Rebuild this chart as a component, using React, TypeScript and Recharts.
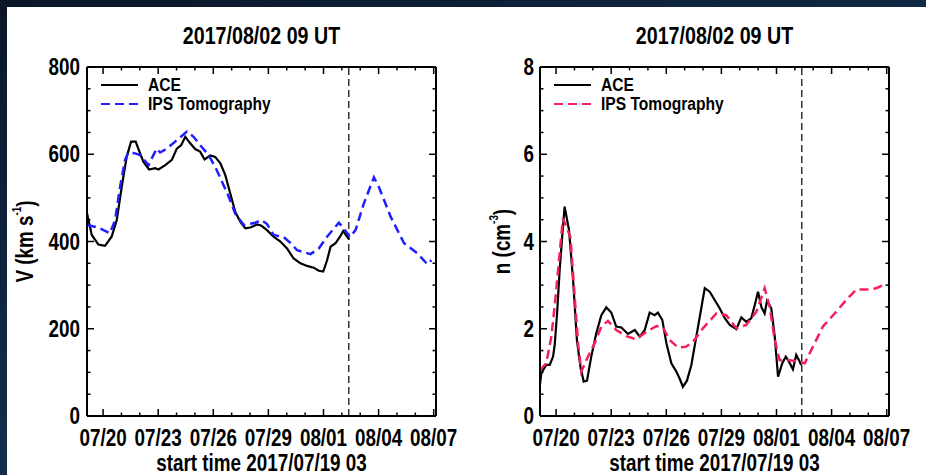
import React from 'react';
import { LineChart, Line, XAxis, YAxis, ReferenceLine, Legend, Label } from 'recharts';

const FONT = '"Liberation Sans", Arial, Helvetica, sans-serif';
const SQUEEZE = 0.82; // narrow Helvetica look

// time axis is in days since 2017/07/19 03 UT
const dayTicks = [0.875, 1.875, 2.875, 3.875, 4.875, 5.875, 6.875, 7.875, 8.875, 9.875, 10.875, 11.875, 12.875, 13.875, 14.875, 15.875, 16.875, 17.875, 18.875];
const majorDays = [0.875, 3.875, 6.875, 9.875, 12.875, 15.875, 18.875];
const dateLabels = ['07/20', '07/23', '07/26', '07/29', '08/01', '08/04', '08/07'];
const forecastDay = 14.25; // 2017/08/02 09 UT

const vTicks = [0, 50, 100, 150, 200, 250, 300, 350, 400, 450, 500, 550, 600, 650, 700, 750, 800];
const vMajor = [0, 200, 400, 600, 800];
const nTicks = [0, 0.5, 1, 1.5, 2, 2.5, 3, 3.5, 4, 4.5, 5, 5.5, 6, 6.5, 7, 7.5, 8];
const nMajor = [0, 2, 4, 6, 8];

// solar wind speed, km/s
const aceVTime = [0, 0.26, 0.62, 0.98, 1.34, 1.62, 1.89, 2.16, 2.4, 2.65, 2.89, 3.07, 3.38, 3.71, 3.89, 4.26, 4.62, 4.89, 5.13, 5.35, 5.62, 5.89, 6.16, 6.4, 6.71, 6.98, 7.26, 7.53, 7.8, 8.07, 8.35, 8.62, 8.89, 9.26, 9.5, 9.8, 10.16, 10.53, 10.89, 11.25, 11.62, 11.98, 12.34, 12.62, 12.86, 13.07, 13.26, 13.53, 13.77, 13.95, 14.13, 14.27];
const aceV = [465, 415, 393, 390, 411, 449, 525, 594, 629, 629, 602, 583, 565, 568, 565, 575, 587, 613, 621, 640, 625, 612, 606, 588, 597, 594, 579, 552, 510, 468, 445, 430, 432, 439, 436, 426, 411, 400, 384, 361, 350, 344, 340, 333, 331, 357, 388, 396, 411, 424, 413, 405];
const ipsVTime = [0, 0.62, 1.25, 1.53, 1.8, 2.07, 2.25, 2.62, 2.89, 3.35, 3.53, 3.8, 3.98, 4.35, 4.8, 5.44, 5.8, 6.16, 6.62, 6.98, 7.35, 7.71, 8.07, 8.53, 9.16, 9.5, 9.8, 10.16, 10.71, 11.07, 11.44, 12.17, 12.62, 13.07, 13.71, 13.98, 14.31, 14.62, 15.07, 15.62, 15.89, 16.53, 17.26, 17.98, 18.53, 18.75];
const ipsV = [438, 432, 419, 449, 525, 587, 604, 602, 598, 575, 591, 613, 604, 613, 629, 652, 640, 621, 598, 571, 537, 503, 464, 438, 443, 449, 440, 415, 410, 397, 380, 371, 384, 411, 443, 430, 410, 426, 487, 547, 525, 457, 396, 373, 348, 357];

// proton density, cm^-3
const aceNTime = [0, 0.07, 0.34, 0.53, 0.71, 0.8, 0.93, 1.07, 1.21, 1.34, 1.58, 1.8, 2.01, 2.2, 2.38, 2.56, 2.79, 3.06, 3.34, 3.61, 3.88, 4.15, 4.43, 4.79, 5.16, 5.43, 5.7, 5.97, 6.24, 6.42, 6.66, 6.88, 7.15, 7.42, 7.6, 7.78, 8.0, 8.24, 8.51, 8.78, 8.97, 9.24, 9.51, 9.78, 10.06, 10.33, 10.69, 10.96, 11.23, 11.5, 11.69, 11.87, 12.05, 12.23, 12.36, 12.59, 12.78, 12.96, 13.19, 13.38, 13.56, 13.77, 13.95, 14.1, 14.22];
const aceN = [0.73, 0.98, 1.17, 1.17, 1.36, 1.63, 2.35, 3.35, 4.11, 4.8, 4.26, 3.12, 1.74, 1.13, 0.79, 0.81, 1.36, 1.89, 2.31, 2.49, 2.37, 2.05, 2.03, 1.88, 1.97, 1.82, 1.97, 2.37, 2.31, 2.37, 2.2, 1.67, 1.21, 1.02, 0.86, 0.67, 0.81, 1.17, 1.82, 2.47, 2.93, 2.85, 2.66, 2.47, 2.24, 2.09, 1.99, 2.26, 2.16, 2.24, 2.54, 2.85, 2.5, 2.35, 2.64, 2.47, 1.82, 0.9, 1.21, 1.36, 1.24, 1.07, 1.4, 1.28, 1.17];
const ipsNTime = [0, 0.34, 0.62, 0.85, 1.07, 1.25, 1.65, 1.89, 2.07, 2.25, 2.61, 2.98, 3.34, 3.7, 4.15, 4.7, 5.24, 5.79, 6.34, 6.7, 7.06, 7.51, 7.96, 8.33, 8.87, 9.6, 10.14, 10.69, 11.23, 11.78, 12.23, 12.5, 12.78, 13.05, 13.59, 14.14, 14.41, 14.86, 15.4, 16.13, 16.67, 17.22, 17.94, 18.31, 18.77];
const ipsN = [1.05, 1.21, 1.82, 2.73, 3.73, 4.53, 4.11, 2.73, 1.67, 1.02, 1.36, 1.67, 2.05, 2.18, 1.97, 1.83, 1.76, 1.93, 2.06, 2.03, 1.74, 1.57, 1.59, 1.7, 2.01, 2.35, 2.31, 2.01, 2.09, 2.39, 2.93, 2.51, 1.74, 1.28, 1.28, 1.24, 1.21, 1.59, 2.05, 2.39, 2.66, 2.9, 2.9, 2.93, 3.02];

type Pt = { t: number; v: number };
const toPoints = (t: number[], v: number[]): Pt[] => t.map((d, i) => ({ t: d, v: v[i] }));

// bold text squeezed horizontally around its anchor point
const NText = ({ x, y, size, anchor = 'start', rotate = false, baseline, children }: any) => (
  <text
    transform={`translate(${x} ${y})${rotate ? ' rotate(-90)' : ''} scale(${SQUEEZE} 1)`}
    x={0}
    y={0}
    textAnchor={anchor}
    dominantBaseline={baseline}
    fontSize={size}
    fontFamily={FONT}
    fontWeight="bold"
    fill="#000"
  >
    {children}
  </text>
);

const BottomTick = ({ x, y, payload }: any) => {
  const i = majorDays.indexOf(payload.value);
  return (
    <g>
      <line x1={x} y1={y} x2={x} y2={y - (i >= 0 ? 7 : 3.5)} stroke="#000" strokeWidth={1.5} />
      {i >= 0 && (
        <NText x={x} y={y + 30} size={23} anchor="middle">
          {dateLabels[i]}
        </NText>
      )}
    </g>
  );
};

const TopTick = ({ x, y, payload }: any) => {
  const len = majorDays.includes(payload.value) ? 7 : 3.5;
  return <line x1={x} y1={y} x2={x} y2={y + len} stroke="#000" strokeWidth={1.5} />;
};

const makeLeftTick = (major: number[], gap: number) => ({ x, y, payload }: any) => {
  const isMajor = major.includes(payload.value);
  return (
    <g>
      <line x1={x} y1={y} x2={x + (isMajor ? 7 : 3.5)} y2={y} stroke="#000" strokeWidth={1.5} />
      {isMajor && (
        <NText x={x - gap} y={y + 8} size={23} anchor="end">
          {payload.value}
        </NText>
      )}
    </g>
  );
};

const makeRightTick = (major: number[]) => ({ x, y, payload }: any) => {
  const len = major.includes(payload.value) ? 7 : 3.5;
  return <line x1={x} y1={y} x2={x - len} y2={y} stroke="#000" strokeWidth={1.5} />;
};

const dashFor: Record<string, string | undefined> = { ACE: undefined, 'IPS Tomography': '9 5' };

const LegendBox = ({ payload }: any) => (
  <div style={{ fontFamily: FONT, fontWeight: 'bold', fontSize: 19, lineHeight: '19px' }}>
    {(payload || []).map((e: any) => (
      <div key={e.value} style={{ display: 'flex', alignItems: 'center', height: 19, whiteSpace: 'nowrap' }}>
        <svg width={47} height={19} style={{ display: 'block', flex: 'none' }}>
          <line x1={0} y1={10} x2={37} y2={10} stroke={e.color} strokeWidth={2.2} strokeDasharray={dashFor[e.value]} />
        </svg>
        <span
          style={{
            color: '#000',
            display: 'inline-block',
            transform: `scaleX(${SQUEEZE})`,
            transformOrigin: 'left center',
          }}
        >
          {e.value}
        </span>
      </div>
    ))}
  </div>
);

type PanelProps = {
  left: number;
  marginLeft: number;
  marginRight: number;
  yLabelGap: number;
  yTickGap: number;
  yDomain: [number, number];
  yTicks: number[];
  yMajor: number[];
  yLabel: React.ReactNode;
  ace: Pt[];
  ips: Pt[];
  ipsColor: string;
};

const Panel = (p: PanelProps) => (
  <div style={{ position: 'absolute', left: p.left, top: 0 }}>
    <LineChart
      width={463}
      height={475}
      margin={{ top: 66, right: p.marginRight, bottom: 58, left: p.marginLeft }}
    >
      <XAxis
        xAxisId={0}
        dataKey="t"
        type="number"
        domain={[0, 19]}
        allowDataOverflow
        ticks={dayTicks}
        interval={0}
        height={1}
        tickSize={0}
        tickMargin={0}
        tickLine={false}
        tick={BottomTick}
        axisLine={{ stroke: '#000', strokeWidth: 2 }}
      >
        <Label
          content={({ viewBox }: any) => (
            <NText x={viewBox.x + viewBox.width / 2} y={viewBox.y + 55} size={23} anchor="middle">
              start time 2017/07/19 03
            </NText>
          )}
        />
      </XAxis>
      <XAxis
        xAxisId="top"
        orientation="top"
        dataKey="t"
        type="number"
        domain={[0, 19]}
        allowDataOverflow
        ticks={dayTicks}
        interval={0}
        height={1}
        tickSize={0}
        tickMargin={0}
        tickLine={false}
        tick={TopTick}
        axisLine={{ stroke: '#000', strokeWidth: 2 }}
      >
        <Label
          content={({ viewBox }: any) => (
            <NText x={viewBox.x + viewBox.width / 2} y={44} size={24} anchor="middle">
              2017/08/02 09 UT
            </NText>
          )}
        />
      </XAxis>
      <YAxis
        yAxisId={0}
        type="number"
        domain={p.yDomain}
        allowDataOverflow
        ticks={p.yTicks}
        interval={0}
        width={1}
        tickSize={0}
        tickMargin={0}
        tickLine={false}
        tick={makeLeftTick(p.yMajor, p.yTickGap)}
        axisLine={{ stroke: '#000', strokeWidth: 2 }}
      >
        <Label
          content={({ viewBox }: any) => (
            <NText
              x={viewBox.x + viewBox.width - p.yLabelGap}
              y={viewBox.y + viewBox.height / 2}
              size={23}
              anchor="middle"
              baseline="central"
              rotate
            >
              {p.yLabel}
            </NText>
          )}
        />
      </YAxis>
      <YAxis
        yAxisId="right"
        orientation="right"
        type="number"
        domain={p.yDomain}
        allowDataOverflow
        ticks={p.yTicks}
        interval={0}
        width={1}
        tickSize={0}
        tickMargin={0}
        tickLine={false}
        tick={makeRightTick(p.yMajor)}
        axisLine={{ stroke: '#000', strokeWidth: 2 }}
      />
      <ReferenceLine x={forecastDay} stroke="#333" strokeWidth={1.5} strokeDasharray="7 4" />
      <Line
        data={p.ace}
        dataKey="v"
        name="ACE"
        type="linear"
        stroke="#000"
        strokeWidth={2.2}
        dot={false}
        activeDot={false}
        isAnimationActive={false}
      />
      <Line
        data={p.ips}
        dataKey="v"
        name="IPS Tomography"
        type="linear"
        stroke={p.ipsColor}
        strokeWidth={2.5}
        strokeDasharray="9 5"
        dot={false}
        activeDot={false}
        isAnimationActive={false}
      />
      <Legend
        layout="vertical"
        align="center"
        verticalAlign="middle"
        content={LegendBox}
        wrapperStyle={{ left: p.marginLeft + 15, top: 75, width: 'auto' }}
      />
    </LineChart>
  </div>
);

export default function App() {
  return (
    <div
      style={{
        position: 'absolute',
        left: 0,
        top: 0,
        width: 926,
        height: 475,
        overflow: 'hidden',
        background: 'linear-gradient(160deg, #0b1628 0%, #12304f 60%, #1b4f7c 100%)',
      }}
    >
      <div style={{ position: 'absolute', left: 7, top: 7, width: 919, height: 468, background: '#fff' }} />
      <Panel
        left={0}
        marginLeft={86}
        marginRight={26}
        yLabelGap={62}
        yTickGap={7}
        yDomain={[0, 800]}
        yTicks={vTicks}
        yMajor={vMajor}
        yLabel={
          <>
            V (km s<tspan dy={-8} fontSize={12}>-1</tspan>
            <tspan dy={8}>)</tspan>
          </>
        }
        ace={toPoints(aceVTime, aceV)}
        ips={toPoints(ipsVTime, ipsV)}
        ipsColor="#1f1fff"
      />
      <Panel
        left={463}
        marginLeft={76}
        marginRight={36}
        yLabelGap={38}
        yTickGap={6}
        yDomain={[0, 8]}
        yTicks={nTicks}
        yMajor={nMajor}
        yLabel={
          <>
            n (cm<tspan dy={-8} fontSize={12}>-3</tspan>
            <tspan dy={8}>)</tspan>
          </>
        }
        ace={toPoints(aceNTime, aceN)}
        ips={toPoints(ipsNTime, ipsN)}
        ipsColor="#f5205a"
      />
    </div>
  );
}
